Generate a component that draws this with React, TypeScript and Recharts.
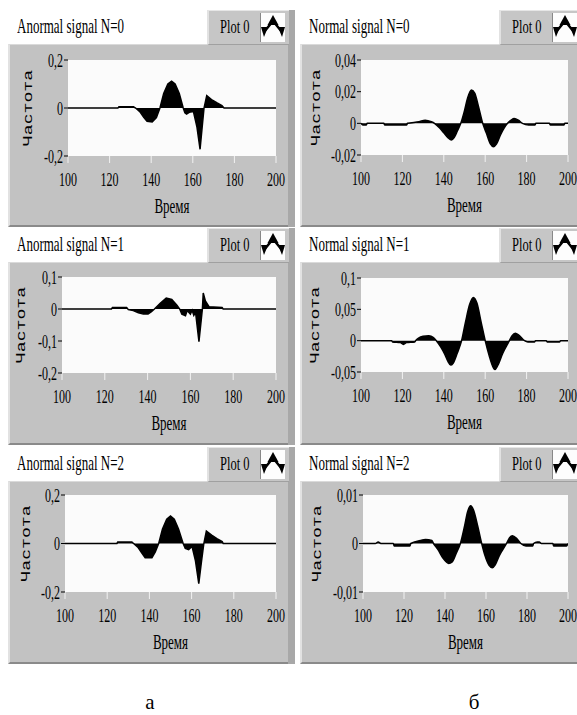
import React from 'react';
import { AreaChart, Area, XAxis, YAxis, CartesianGrid } from 'recharts';

// ---------- data ----------
const timeTicks = [100, 120, 140, 160, 180, 200];

const panelTitles = [
  'Anormal signal N=0',
  'Normal signal N=0',
  'Anormal signal N=1',
  'Normal signal N=1',
  'Anormal signal N=2',
  'Normal signal N=2',
];
const legendLabel = 'Plot 0';
const xAxisName = 'Время';
const yAxisName = 'Частота';
const columnCaptions = ['а', 'б'];

const anormal0Time = [100, 124, 124.5, 131.5, 132.5, 134.5, 136.5, 138, 140.5, 142.5, 144.2, 146, 148, 149.8, 151.5, 153.5, 155.4, 156.2, 157, 158.3, 160.3, 162, 163.5, 164.5, 165.4, 166.7, 169, 171.5, 174, 175, 200];
const anormal0Value = [0, 0, 0.005, 0.005, 0, -0.015, -0.04, -0.055, -0.058, -0.04, 0, 0.06, 0.1, 0.112, 0.1, 0.06, 0, -0.02, -0.025, -0.018, -0.015, -0.08, -0.172, -0.08, 0, 0.052, 0.035, 0.022, 0.01, 0, 0];
const anormal0Ticks = [-0.2, 0, 0.2];

const anormal1Time = [100, 123.1, 123.6, 130.2, 131, 133.3, 135.7, 138, 140.2, 141.8, 143.2, 145.9, 148.7, 151.3, 153.7, 155, 156, 157.7, 158.5, 160, 160.8, 161.6, 162.4, 164, 165.6, 166, 167, 168.7, 174.8, 175.3, 200];
const anormal1Value = [0, 0, 0.005, 0.005, -0.002, -0.005, -0.012, -0.016, -0.016, -0.008, 0, 0.018, 0.034, 0.03, 0.012, 0, -0.016, -0.021, -0.005, -0.016, -0.004, -0.02, -0.01, -0.102, 0, 0.05, 0.025, 0.007, 0.005, 0, 0];
const anormal1Ticks = [-0.2, -0.1, 0, 0.1];

const anormal2Time = [100, 124.6, 125, 131.7, 132.5, 134.5, 136.5, 138, 141.2, 142.8, 144.4, 146.2, 148.2, 150, 151.8, 153.8, 156, 157, 158.6, 160.2, 161.8, 163.4, 164.6, 165.8, 167, 169.5, 172, 174.5, 175, 200];
const anormal2Value = [0, 0, 0.006, 0.006, 0, -0.015, -0.04, -0.059, -0.059, -0.035, 0, 0.06, 0.1, 0.113, 0.1, 0.06, 0, -0.02, -0.025, -0.012, -0.07, -0.166, -0.08, 0, 0.051, 0.035, 0.02, 0.008, 0, 0];
const anormal2Ticks = [-0.2, 0, 0.2];

const normal0Time = [100, 101, 102.5, 103, 111, 111.5, 122, 122.5, 128, 131, 134, 135.5, 138, 140, 142, 143.7, 145, 146.5, 148.2, 150, 151.5, 153.4, 155, 156.5, 158.8, 160.5, 162.5, 164, 165.5, 167.5, 170.8, 172.5, 174, 176, 178, 181, 184, 184.5, 191, 191.5, 198, 198.5, 200];
const normal0Value = [0, -0.001, -0.001, 0, 0, -0.001, -0.001, 0, 0.001, 0.002, 0.001, 0, -0.003, -0.006, -0.009, -0.0105, -0.009, -0.005, 0, 0.008, 0.016, 0.021, 0.019, 0.012, 0, -0.006, -0.013, -0.0148, -0.013, -0.007, 0, 0.002, 0.003, 0.002, 0, -0.001, -0.001, 0, 0, -0.001, -0.001, 0, 0];
const normal0Ticks = [-0.02, 0, 0.02, 0.04];

const normal1Time = [100, 114.8, 115.2, 119, 120.5, 122, 126, 126.4, 127.8, 130, 132.7, 135, 136.4, 138.5, 140.5, 142, 143.3, 144.5, 146.5, 148.6, 150.5, 152.5, 154.3, 156, 158, 160, 162, 163.5, 164.7, 166, 168.5, 171.7, 173, 174.5, 176.5, 179, 180.6, 183.9, 184.3, 189.5, 189.9, 196, 196.4, 200];
const normal1Value = [0, 0, -0.002, -0.003, -0.006, -0.003, -0.002, 0, 0.004, 0.007, 0.008, 0.005, 0, -0.01, -0.022, -0.033, -0.039, -0.036, -0.02, 0, 0.03, 0.058, 0.069, 0.06, 0.03, 0, -0.025, -0.04, -0.046, -0.04, -0.02, 0, 0.008, 0.012, 0.008, 0, -0.002, -0.002, 0, 0, -0.002, -0.002, 0, 0];
const normal1Ticks = [-0.05, 0, 0.05, 0.1];

const normal2Time = [100, 106, 107.4, 109, 114.8, 115.2, 122.9, 123.3, 127.9, 130.5, 133.6, 134.4, 136.5, 139, 141.8, 143.5, 145.5, 147.5, 149.5, 151, 152.5, 154, 156, 157.9, 159.5, 161.5, 163.1, 164.5, 166.5, 170, 171.5, 172.9, 175, 177, 179.5, 182.8, 183.2, 185, 186, 187, 192.6, 193, 199.2, 200];
const normal2Value = [0, 0, 0.0003, 0, 0, -0.0005, -0.0005, 0, 0.0006, 0.0008, 0.0006, 0, -0.0012, -0.003, -0.0041, -0.0038, -0.002, 0, 0.0035, 0.0065, 0.0078, 0.0068, 0.0035, 0, -0.0025, -0.0045, -0.005, -0.0044, -0.0025, 0, 0.0012, 0.0016, 0.001, 0, -0.0005, -0.0005, 0, 0.0003, 0.0003, 0, 0, -0.0005, -0.0005, 0];
const normal2Ticks = [-0.01, 0, 0.01];

// ---------- styles ----------
const SERIF = '"Liberation Serif", "Times New Roman", serif';
const MONO = '"Liberation Mono", "Courier New", monospace';
const STRETCH = 1.55;

const fmt = (v: number) => (v === 0 ? '0' : String(v).replace('.', ','));

function YTick(props: any) {
  const { x, y, payload } = props;
  return (
    <text
      transform={`translate(${x},${y}) scale(1,${STRETCH})`}
      textAnchor="end"
      dominantBaseline="central"
      fontFamily={SERIF}
      fontSize={12}
      fill="#000"
    >
      {fmt(payload.value)}
    </text>
  );
}

function XTick(props: any) {
  const { x, y, payload } = props;
  return (
    <text
      transform={`translate(${x},${y + 16}) scale(1,${STRETCH})`}
      textAnchor="middle"
      dominantBaseline="central"
      fontFamily={SERIF}
      fontSize={12}
      fill="#000"
    >
      {payload.value}
    </text>
  );
}

function LegendIcon() {
  return (
    <svg width={24} height={29} style={{ display: 'block' }}>
      <rect x={0} y={0} width={24} height={29} fill="#fdfdfd" />
      <polyline points="3,19 12,8 21,19" fill="none" stroke="#000" strokeWidth={2.5} />
      <polygon points="12,2 6.5,12 17.5,12" fill="#000" />
      <polygon points="0,14 7,14 3,24" fill="#000" />
      <polygon points="17,14 24,14 21,24" fill="#000" />
    </svg>
  );
}

type PanelProps = {
  left: number;
  top: number;
  title: string;
  time: number[];
  values: number[];
  ticks: number[];
  plotLeft: number;
  plotTop: number;
  plotBottom: number;
  yLabelX: number;
  curve: 'linear' | 'monotone';
};

const PANEL_W = 287;
const PANEL_H = 220;

function Panel(p: PanelProps) {
  const data = p.time.map((t, i) => ({ t, v: p.values[i] }));
  const domain: [number, number] = [p.ticks[0], p.ticks[p.ticks.length - 1]];
  return (
    <div style={{ position: 'absolute', left: p.left, top: p.top, width: PANEL_W, height: PANEL_H }}>
      {/* body */}
      <div
        style={{
          position: 'absolute',
          left: 0,
          top: 34,
          width: PANEL_W,
          height: 183,
          background: '#c2c2c2',
          borderLeft: '2px solid #e2e2e2',
          borderTop: '1px solid #dadada',
          borderBottom: '2px solid #8a8a8a',
          boxSizing: 'border-box',
        }}
      />
      {/* right shade strip */}
      <div style={{ position: 'absolute', left: 280, top: 0, width: 7, height: 217, background: '#a8a8a8' }} />
      {/* legend box */}
      <div
        style={{
          position: 'absolute',
          left: 199,
          top: 0,
          width: 82,
          height: 35,
          background: '#c6c6c6',
          borderTop: '1px solid #e6e6e6',
          borderLeft: '2px solid #e2e2e2',
          borderBottom: '1px solid #a0a0a0',
          boxSizing: 'border-box',
        }}
      >
        <div
          style={{
            position: 'absolute',
            left: 11,
            top: 10,
            height: 13,
            lineHeight: '13px',
            fontFamily: SERIF,
            fontSize: 12.5,
            transform: `scaleY(${STRETCH})`,
            transformOrigin: 'left center',
            whiteSpace: 'nowrap',
            color: '#000',
          }}
        >
          {legendLabel}
        </div>
        <div style={{ position: 'absolute', left: 51, top: 2, borderLeft: '1px solid #888' }}>
          <LegendIcon />
        </div>
      </div>
      {/* title */}
      <div
        style={{
          position: 'absolute',
          left: 9,
          top: 10,
          height: 13,
          lineHeight: '13px',
          fontFamily: SERIF,
          fontSize: 13,
          transform: `scaleY(${STRETCH})`,
          transformOrigin: 'left center',
          whiteSpace: 'nowrap',
          color: '#000',
        }}
      >
        {p.title}
      </div>
      {/* chart */}
      <div style={{ position: 'absolute', left: 0, top: 0 }}>
        <AreaChart
          width={PANEL_W}
          height={PANEL_H}
          data={data}
          margin={{ top: p.plotTop, right: 19, bottom: 0, left: 0 }}
        >
          <CartesianGrid fill="#fbfbfb" stroke="#fbfbfb" horizontal={false} vertical={false} />
          <XAxis
            dataKey="t"
            type="number"
            domain={[100, 200]}
            ticks={timeTicks}
            allowDataOverflow
            height={PANEL_H - p.plotBottom}
            axisLine={false}
            tickLine={{ stroke: '#f2f2f2', strokeWidth: 1 }}
            tickSize={7}
            tickMargin={0}
            tick={<XTick />}
            interval={0}
            label={{
              content: (lp: any) => {
                const vb = lp.viewBox || {};
                return (
                  <text
                    transform={`translate(${vb.x + vb.width / 2},${vb.y + 50}) scale(1,${STRETCH})`}
                    textAnchor="middle"
                    dominantBaseline="central"
                    fontFamily={SERIF}
                    fontSize={13}
                    fill="#000"
                  >
                    {xAxisName}
                  </text>
                );
              },
            }}
          />
          <YAxis
            type="number"
            domain={domain}
            ticks={p.ticks}
            allowDataOverflow
            width={p.plotLeft}
            axisLine={false}
            tickLine={{ stroke: '#000', strokeWidth: 1 }}
            tickSize={4}
            tickMargin={1}
            tick={<YTick />}
            interval={0}
            label={{
              content: (lp: any) => {
                const vb = lp.viewBox || {};
                return (
                  <text
                    transform={`translate(${p.yLabelX},${vb.y + vb.height / 2}) rotate(-90) scale(1.4,1)`}
                    textAnchor="middle"
                    dominantBaseline="central"
                    fontFamily={MONO}
                    fontSize={13}
                    fill="#000"
                  >
                    {yAxisName}
                  </text>
                );
              },
            }}
          />
          <Area
            type={p.curve}
            dataKey="v"
            stroke="#000"
            strokeWidth={1.5}
            fill="#000"
            fillOpacity={1}
            dot={false}
            activeDot={false}
            isAnimationActive={false}
          />
        </AreaChart>
      </div>
    </div>
  );
}

export default function App() {
  return (
    <div
      style={{
        position: 'absolute',
        left: 0,
        top: 0,
        width: 577,
        height: 715,
        overflow: 'hidden',
        background: '#fff',
      }}
    >
      <Panel left={8} top={10} title={panelTitles[0]} time={anormal0Time} values={anormal0Value} ticks={anormal0Ticks} plotLeft={60} plotTop={50} plotBottom={146} yLabelX={21} curve="linear" />
      <Panel left={300} top={10} title={panelTitles[1]} time={normal0Time} values={normal0Value} ticks={normal0Ticks} plotLeft={61} plotTop={50} plotBottom={145} yLabelX={17} curve="monotone" />
      <Panel left={8} top={228} title={panelTitles[2]} time={anormal1Time} values={anormal1Value} ticks={anormal1Ticks} plotLeft={54} plotTop={49} plotBottom={145} yLabelX={14} curve="linear" />
      <Panel left={300} top={228} title={panelTitles[3]} time={normal1Time} values={normal1Value} ticks={normal1Ticks} plotLeft={61} plotTop={50} plotBottom={144} yLabelX={16} curve="monotone" />
      <Panel left={8} top={447} title={panelTitles[4]} time={anormal2Time} values={anormal2Value} ticks={anormal2Ticks} plotLeft={57} plotTop={48} plotBottom={145} yLabelX={19} curve="linear" />
      <Panel left={300} top={447} title={panelTitles[5]} time={normal2Time} values={normal2Value} ticks={normal2Ticks} plotLeft={63} plotTop={48} plotBottom={145} yLabelX={18} curve="monotone" />
      <div style={{ position: 'absolute', left: 140, top: 692, width: 20, textAlign: 'center', fontFamily: SERIF, fontSize: 21, lineHeight: '21px' }}>
        {columnCaptions[0]}
      </div>
      <div style={{ position: 'absolute', left: 464, top: 692, width: 20, textAlign: 'center', fontFamily: SERIF, fontSize: 21, lineHeight: '21px' }}>
        {columnCaptions[1]}
      </div>
    </div>
  );
}
